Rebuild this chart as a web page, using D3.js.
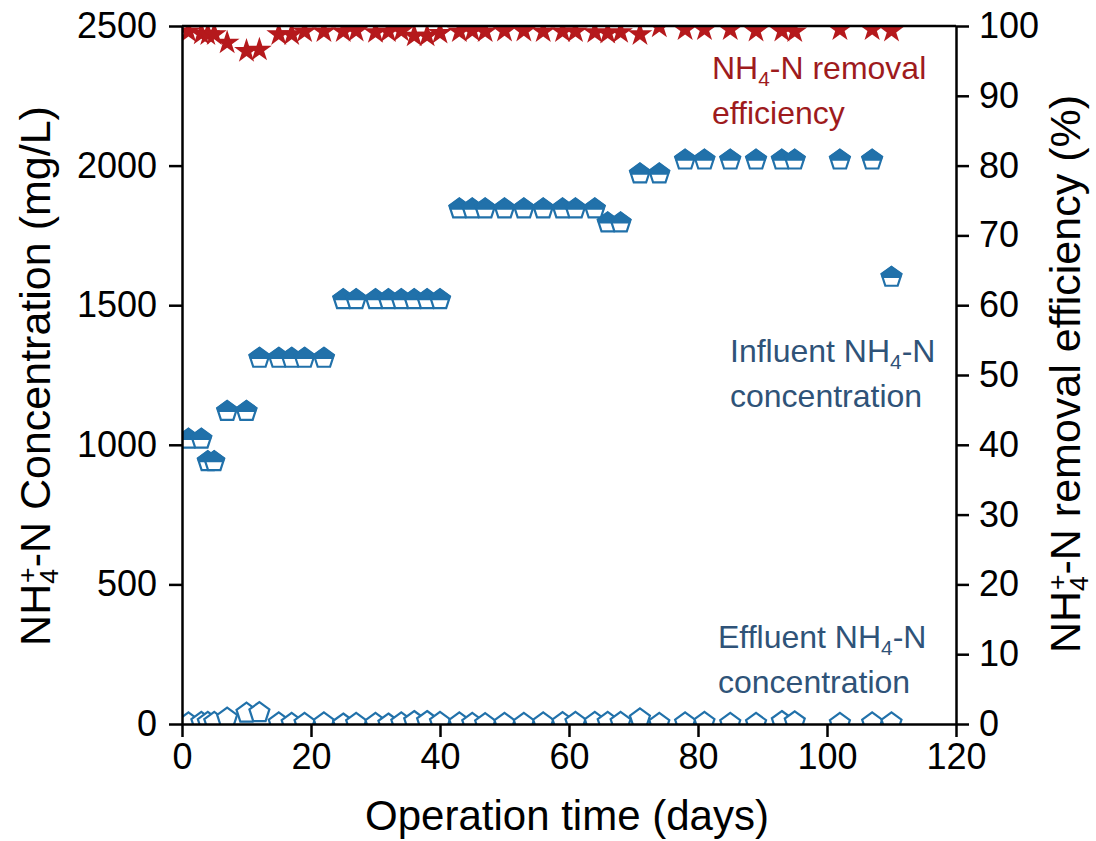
<!DOCTYPE html>
<html>
<head>
<meta charset="utf-8">
<script src="https://cdn.jsdelivr.net/npm/d3@7"></script>
<style>
  body { margin: 0; background: #fff; }
  text { font-family: "Liberation Sans", Arial, sans-serif; }
</style>
</head>
<body>
<script>
// operation days
var days = [1,3,4,5,7,10,12,15,17,19,22,25,27,30,32,34,36,38,40,43,45,47,50,53,56,59,61,64,66,68,71,74,78,81,85,89,93,95,102,107,110];
// influent NH4-N (mg/L)
var influent = [1020,1020,940,940,1120,1120,1310,1310,1310,1310,1310,
  1520,1520,1520,1520,1520,1520,1520,1520,
  1845,1845,1845,1845,1845,1845,1845,1845,1845,
  1795,1795,1970,1970,2020,2020,2020,2020,2020,2020,2020,2020,1600];
// effluent NH4-N (mg/L)
var effluent = [4,6,6,6,21,39,41,4,2,2,4,0,2,2,0,4,9,9,6,4,2,1,2,2,4,5,6,6,6,6,18,2,4,6,2,2,9,8,2,4,4];
// removal efficiency (%)
var efficiency = [99.2,98.9,98.8,98.8,97.6,96.4,96.6,98.8,98.8,99.2,99.2,99.2,99.3,99.1,99.2,99.3,98.6,98.6,99.0,
  99.2,99.3,99.2,99.3,99.3,99.2,99.2,99.2,99.1,99.0,99.1,98.8,99.9,99.5,99.5,99.5,99.3,99.3,99.2,99.5,99.5,99.3];

var xTicks = [0,20,40,60,80,100,120];
var yTicks = [0,500,1000,1500,2000,2500];
var y2Ticks = [0,10,20,30,40,50,60,70,80,90,100];

var width = 1096, height = 841;
var pLeft = 182, pRight = 956, pTop = 26, pBottom = 724;
var blue = "#2171aa", red = "#b5191c";

var svg = d3.select("body").append("svg")
  .attr("width", width).attr("height", height);

var x = d3.scaleLinear().domain([0,120]).range([pLeft,pRight]);
var y = d3.scaleLinear().domain([0,2500]).range([pBottom,pTop]);
var y2 = d3.scaleLinear().domain([0,100]).range([pBottom,pTop]);

svg.append("clipPath").attr("id","plot").append("rect")
  .attr("x",pLeft).attr("y",pTop).attr("width",pRight-pLeft).attr("height",pBottom-pTop);

var g = svg.append("g").attr("clip-path","url(#plot)");

// pentagon, radius r, pointing up
var r = 10.5;
function pentagon() {
  var pts = [];
  for (var k = 0; k < 5; k++) {
    var a = -Math.PI/2 + k*2*Math.PI/5;
    pts.push([r*Math.cos(a), r*Math.sin(a)]);
  }
  return "M" + pts.join("L") + "Z";
}
var topHalf = "M0," + (-r) + "L" + (0.951*r) + "," + (-0.309*r) + "L" + (0.851*r) + ",0L" +
  (-0.851*r) + ",0L" + (-0.951*r) + "," + (-0.309*r) + "Z";

// effluent: open pentagons
g.selectAll(".eff").data(days).enter().append("path")
  .attr("d", pentagon())
  .attr("transform", function(d,i){ return "translate(" + x(d) + "," + y(effluent[i]) + ")"; })
  .attr("fill","#fff").attr("stroke",blue).attr("stroke-width",2.2);

// influent: top-half-filled pentagons
var inf = g.selectAll(".inf").data(days).enter().append("g")
  .attr("transform", function(d,i){ return "translate(" + x(d) + "," + y(influent[i]) + ")"; });
inf.append("path").attr("d", pentagon()).attr("fill","#fff").attr("stroke",blue).attr("stroke-width",2.2);
inf.append("path").attr("d", topHalf).attr("fill",blue).attr("stroke",blue).attr("stroke-width",1.5);

// efficiency: stars
g.selectAll(".eff2").data(days).enter().append("path")
  .attr("d", d3.symbol(d3.symbolStar, 190))
  .attr("transform", function(d,i){ return "translate(" + x(d) + "," + y2(efficiency[i]) + ")"; })
  .attr("fill",red);

// axes
var fs = 36;
var xAxis = svg.append("g").attr("transform","translate(0,"+pBottom+")")
  .call(d3.axisBottom(x).tickValues(xTicks).tickSize(13).tickSizeOuter(0).tickPadding(6).tickFormat(d3.format("d")));
var yAxis = svg.append("g").attr("transform","translate("+pLeft+",0)")
  .call(d3.axisLeft(y).tickValues(yTicks).tickSize(13).tickSizeOuter(0).tickPadding(12).tickFormat(d3.format("d")));
var y2Axis = svg.append("g").attr("transform","translate("+pRight+",0)")
  .call(d3.axisRight(y2).tickValues(y2Ticks).tickSize(13).tickSizeOuter(0).tickPadding(10).tickFormat(d3.format("d")));
[xAxis,yAxis,y2Axis].forEach(function(a){
  a.selectAll("path.domain").attr("stroke","#000").attr("stroke-width",2.5);
  a.selectAll(".tick line").attr("stroke","#000").attr("stroke-width",2.5);
  a.selectAll(".tick text").attr("font-size",fs).attr("fill","#000")
    .style("font-family","'Liberation Sans', Arial, sans-serif");
});
// top frame
svg.append("line").attr("x1",pLeft).attr("x2",pRight).attr("y1",pTop).attr("y2",pTop)
  .attr("stroke","#000").attr("stroke-width",2.5);

// axis titles
var tfs = 42;
svg.append("text").attr("x",(pLeft+pRight)/2 - 2).attr("y",830)
  .attr("text-anchor","middle").attr("font-size",tfs).text("Operation time (days)");

var tts = 43;
var lt = svg.append("text").attr("transform","translate(50,376) rotate(-90)")
  .attr("text-anchor","middle").attr("font-size",tts);
lt.append("tspan").text("NH");
lt.append("tspan").attr("font-size",tts*0.62).attr("dy",8).text("4");
lt.append("tspan").attr("font-size",tts*0.62).attr("dy",-22).attr("dx",-14).text("+");
lt.append("tspan").attr("dy",14).text("-N Concentration (mg/L)");

var rt = svg.append("text").attr("transform","translate(1080,374) rotate(-90)")
  .attr("text-anchor","middle").attr("font-size",tts);
rt.append("tspan").text("NH");
rt.append("tspan").attr("font-size",tts*0.62).attr("dy",8).text("4");
rt.append("tspan").attr("font-size",tts*0.62).attr("dy",-22).attr("dx",-14).text("+");
rt.append("tspan").attr("dy",14).text("-N removal efficiency (%)");

// series labels
var lfs = 32;
function label(xp, yp, color, l1a, l1b, l2) {
  var t = svg.append("text").attr("x",xp).attr("y",yp).attr("font-size",lfs).attr("fill",color);
  t.append("tspan").text(l1a);
  if (l1b) {
    t.append("tspan").attr("font-size",lfs*0.65).attr("dy",7).text("4");
    t.append("tspan").attr("dy",-7).text(l1b);
  }
  svg.append("text").attr("x",xp).attr("y",yp+45).attr("font-size",lfs).attr("fill",color).text(l2);
}
label(712, 79, "#9e1b1d", "NH", "-N removal", "efficiency");
label(730, 362, "#2f5378", "Influent NH", "-N", "concentration");
label(718, 648, "#2f5378", "Effluent NH", "-N", "concentration");
</script>
</body>
</html>
